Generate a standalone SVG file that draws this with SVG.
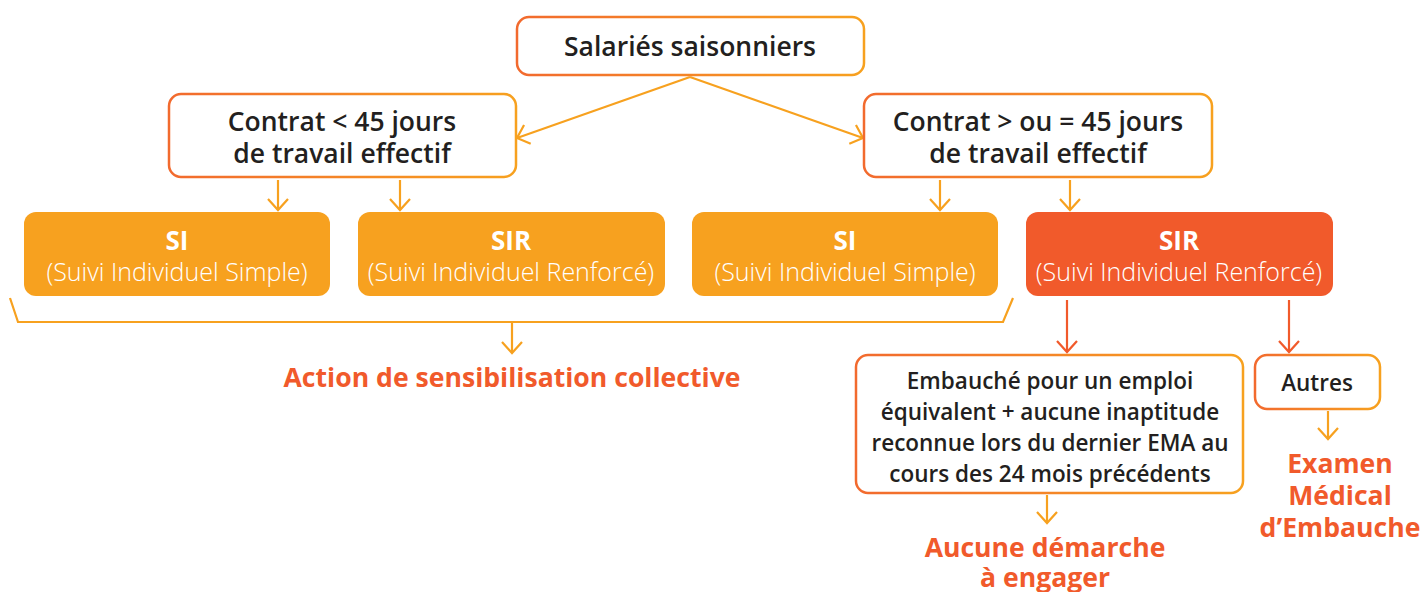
<svg xmlns="http://www.w3.org/2000/svg" width="1421" height="592" viewBox="0 0 1421 592">
<defs>
<linearGradient id="grad" x1="0" y1="0" x2="1" y2="0">
<stop offset="0" stop-color="#F26A2E"/>
<stop offset="1" stop-color="#F7A11F"/>
</linearGradient>
<marker id="ao" markerUnits="userSpaceOnUse" markerWidth="30" markerHeight="30" refX="0" refY="0" viewBox="-15 -15 30 30" orient="auto" overflow="visible">
<path d="M-11,-10 L0,0 L-11,10" fill="none" stroke="#F7A11F" stroke-width="2.2"/>
</marker>
<marker id="ar" markerUnits="userSpaceOnUse" markerWidth="30" markerHeight="30" refX="0" refY="0" viewBox="-15 -15 30 30" orient="auto" overflow="visible">
<path d="M-11,-10 L0,0 L-11,10" fill="none" stroke="#F15A2B" stroke-width="2.2"/>
</marker>
</defs>
<style>
.ob{fill:#fff;stroke:url(#grad);stroke-width:2.5}
.fo{fill:#F7A11F}
.fr{fill:#F15A2B}
.t{font-family:"Open Sans","Liberation Sans",sans-serif;text-anchor:middle}
.dk{fill:#231F20;font-weight:600}
.w1{fill:#fff;font-weight:700;font-size:26px}
.w2{fill:#fff;font-weight:300;font-size:25px}
.hl{fill:#F15A2B;font-weight:700;font-size:26.6px}
.co{fill:none;stroke:#F7A11F;stroke-width:2.2}
.cr{fill:none;stroke:#F15A2B;stroke-width:2.2}
</style>
<g id="connectors">
<path class="co" d="M690,77 L517,138" marker-end="url(#ao)"/>
<path class="co" d="M690,77 L863,138" marker-end="url(#ao)"/>
<path class="co" d="M278,180 L278,210" marker-end="url(#ao)"/>
<path class="co" d="M400,180 L400,210" marker-end="url(#ao)"/>
<path class="co" d="M940,180 L940,210" marker-end="url(#ao)"/>
<path class="co" d="M1070,180 L1070,210" marker-end="url(#ao)"/>
<path class="co" d="M10,298 L18,322 L1003,322 L1013,298"/>
<path class="co" d="M512,322 L512,353" marker-end="url(#ao)"/>
<path class="cr" d="M1067,300 L1067,352" marker-end="url(#ar)"/>
<path class="cr" d="M1289,300 L1289,352" marker-end="url(#ar)"/>
<path class="co" d="M1047,495 L1047,523" marker-end="url(#ao)"/>
<path class="co" d="M1328,411 L1328,439" marker-end="url(#ao)"/>
</g>
<g id="n-salaries">
<rect class="ob" x="517" y="17" width="347" height="58" rx="12"/>
<text class="t dk" x="690" y="56" font-size="26.5">Salariés saisonniers</text>
</g>
<g id="n-contrat-lt">
<rect class="ob" x="169" y="94" width="347" height="83" rx="12"/>
<text class="t dk" x="342" y="131" font-size="26.5">Contrat &lt; 45 jours</text>
<text class="t dk" x="342" y="163" font-size="26.5">de travail effectif</text>
</g>
<g id="n-contrat-ge">
<rect class="ob" x="864" y="94" width="348" height="83" rx="12"/>
<text class="t dk" x="1038" y="131" font-size="26.5">Contrat &gt; ou = 45 jours</text>
<text class="t dk" x="1038" y="163" font-size="26.5">de travail effectif</text>
</g>
<g id="n-si1">
<rect class="fo" x="24" y="212" width="306" height="84" rx="12"/>
<text class="t w1" x="177" y="250">SI</text>
<text class="t w2" x="177" y="281">(Suivi Individuel Simple)</text>
</g>
<g id="n-sir1">
<rect class="fo" x="358" y="212" width="307" height="84" rx="12"/>
<text class="t w1" x="511" y="250">SIR</text>
<text class="t w2" x="511" y="281">(Suivi Individuel Renforcé)</text>
</g>
<g id="n-si2">
<rect class="fo" x="692" y="212" width="306" height="84" rx="12"/>
<text class="t w1" x="845" y="250">SI</text>
<text class="t w2" x="845" y="281">(Suivi Individuel Simple)</text>
</g>
<g id="n-sir2">
<rect class="fr" x="1026" y="212" width="307" height="84" rx="12"/>
<text class="t w1" x="1179" y="250">SIR</text>
<text class="t w2" x="1179" y="281">(Suivi Individuel Renforcé)</text>
</g>
<g id="n-action">
<text class="t hl" x="512" y="387">Action de sensibilisation collective</text>
</g>
<g id="n-embauche">
<rect class="ob" x="856" y="355" width="387" height="138" rx="12"/>
<text class="t dk" x="1050" y="389" font-size="22.5">Embauché pour un emploi</text>
<text class="t dk" x="1050" y="420" font-size="22.5">équivalent + aucune inaptitude</text>
<text class="t dk" x="1050" y="451" font-size="22.5">reconnue lors du dernier EMA au</text>
<text class="t dk" x="1050" y="482" font-size="22.5">cours des 24 mois précédents</text>
</g>
<g id="n-autres">
<rect class="ob" x="1255" y="355" width="125" height="54" rx="12"/>
<text class="t dk" x="1317" y="391" font-size="22.5">Autres</text>
</g>
<g id="n-aucune">
<text class="t hl" x="1045" y="557">Aucune démarche</text>
<text class="t hl" x="1045" y="587">à engager</text>
</g>
<g id="n-examen">
<text class="t hl" x="1340" y="473">Examen</text>
<text class="t hl" x="1340" y="505">Médical</text>
<text class="t hl" x="1340" y="537">d’Embauche</text>
</g>
</svg>
